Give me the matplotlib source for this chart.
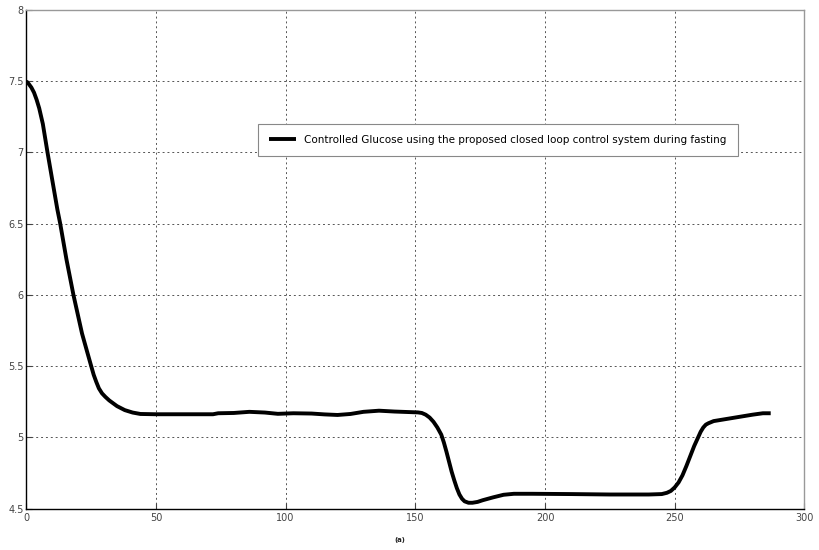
import matplotlib
matplotlib.use("Agg")
import matplotlib.pyplot as plt

# ── data ────────────────────────────────────────────────────────────────────
t_min = [0, 1, 2, 3, 4, 5, 6.4, 8.2, 10, 12, 13.1, 15.5, 18.2, 21.5, 23.5,
         24.9, 26, 27, 28, 29.2, 30.5, 32, 35, 38, 41, 44, 50, 60, 72, 74,
         80, 86, 92, 97, 103, 110, 115, 120, 125, 130, 136, 142, 148, 151,
         152.5, 154, 155.5, 157, 158.5, 160, 161, 162, 163, 164, 165, 166,
         167, 168, 169, 170.5, 172, 174, 176, 180, 184, 188, 195, 210, 225,
         240, 245, 247, 248.5, 250, 251.5, 253, 254.5, 256, 257.5, 259, 260,
         261, 262, 263, 265, 270, 275, 280, 284, 287]
glucose = [7.5, 7.48, 7.455, 7.42, 7.37, 7.31, 7.2, 7.0, 6.81, 6.6, 6.5,
           6.25, 6.0, 5.73, 5.6, 5.51, 5.44, 5.39, 5.345, 5.31, 5.285, 5.26,
           5.22, 5.192, 5.175, 5.165, 5.163, 5.163, 5.163, 5.17, 5.172, 5.18,
           5.175, 5.166, 5.17, 5.168, 5.162, 5.158, 5.165, 5.18, 5.188, 5.182,
           5.178, 5.176, 5.172, 5.16, 5.14, 5.11, 5.07, 5.02, 4.965, 4.9,
           4.83, 4.76, 4.7, 4.645, 4.6, 4.57, 4.552, 4.542, 4.542, 4.548,
           4.56, 4.58, 4.598, 4.605, 4.605, 4.603, 4.6, 4.6, 4.603, 4.612,
           4.625, 4.65, 4.685, 4.735, 4.8, 4.87, 4.94, 5.0, 5.04, 5.07, 5.09,
           5.1, 5.115, 5.13, 5.145, 5.16, 5.17, 5.17]
x_ticks = [0, 50, 100, 150, 200, 250, 300]
y_ticks = [4.5, 5, 5.5, 6, 6.5, 7, 7.5, 8]
y_tick_labels = ["4.5", "5", "5.5", "6", "6.5", "7", "7.5", "8"]
series_label = ("Controlled Glucose using the proposed closed loop "
                "control system during fasting")

fig = plt.figure(figsize=(8.2, 5.5), dpi=100)
ax = fig.add_axes([0.032, 0.075, 0.949, 0.907])

ax.plot(t_min, glucose, color="black", lw=2.8, label=series_label,
        solid_capstyle="butt", solid_joinstyle="round")

ax.set_xlim(0, 300)
ax.set_ylim(4.5, 8)
ax.set_xticks(x_ticks)
ax.set_yticks(y_ticks)
ax.set_yticklabels(y_tick_labels)
ax.tick_params(direction="in", length=4, labelsize=7, colors="#444444",
               pad=3)
ax.tick_params(axis="y", pad=2)
ax.grid(True, color="#555555", ls=(0, (2, 3)), lw=0.7)

for side in ("left", "bottom"):
    ax.spines[side].set_color("black")
    ax.spines[side].set_linewidth(1.0)
for side in ("top", "right"):
    ax.spines[side].set_color("#999999")
    ax.spines[side].set_linewidth(1.0)

leg = ax.legend(loc="upper left", bbox_to_anchor=(0.298, 0.772),
                fontsize=7.5, fancybox=False, framealpha=1,
                edgecolor="#888888", handlelength=2.6, borderaxespad=0,
                borderpad=1.05)
leg.get_frame().set_linewidth(0.8)

fig.text(0.488, 0.018, "(a)", fontsize=5, fontweight="bold", ha="center",
         va="center", color="#222222")

fig.savefig("out.png", dpi=100)
